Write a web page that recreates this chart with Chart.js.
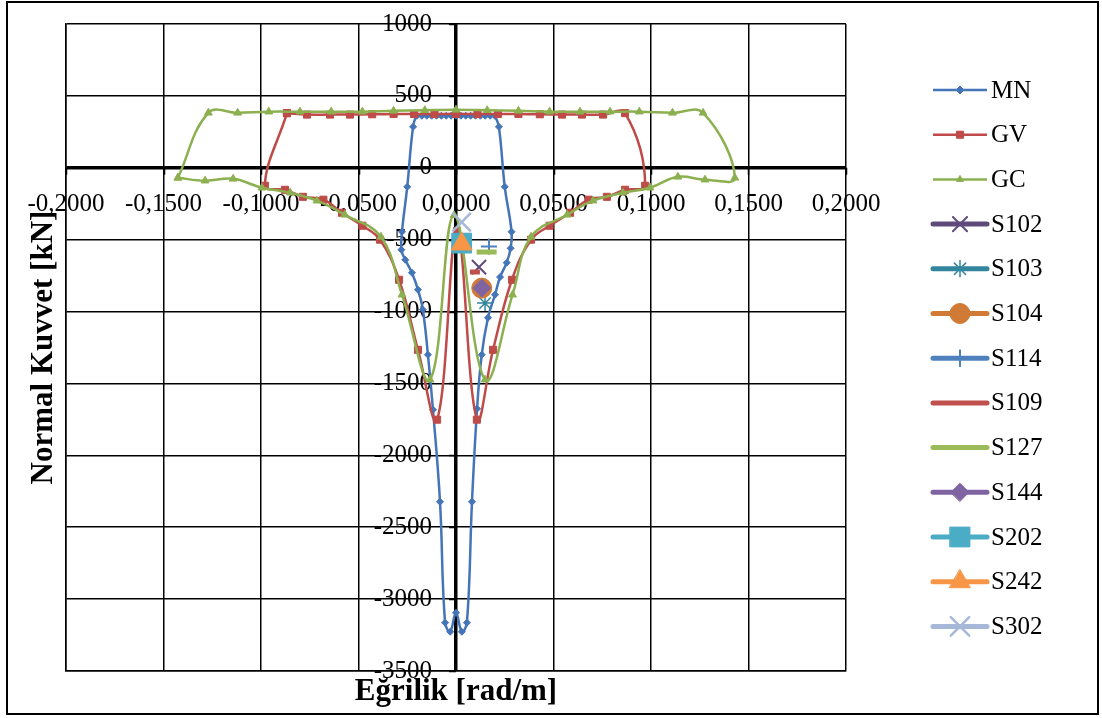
<!DOCTYPE html>
<html>
<head>
<meta charset="utf-8">
<script src="https://cdn.jsdelivr.net/npm/chart.js@4.4.1/dist/chart.umd.min.js"></script>
<style>
  body { margin: 0; background: #fff; }
  #wrap { width: 1102px; height: 718px; }
</style>
</head>
<body>
<div id="wrap"><canvas id="chart" width="1102" height="718"></canvas></div>
<script>
// tick values
var xTicks = [-0.2, -0.15, -0.1, -0.05, 0, 0.05, 0.1, 0.15, 0.2];
var yTicks = [1000, 500, 0, -500, -1000, -1500, -2000, -2500, -3000, -3500];

// MN curve (closed loop)
var mnCurv = [0.020, 0.0175, 0.015, 0.0125, 0.010, 0.0075, 0.005, 0.0025, 0, -0.0025, -0.005, -0.0075, -0.010, -0.0125, -0.015, -0.0175, -0.020,
    -0.022, -0.025, -0.0277, -0.028, -0.026, -0.0226, -0.0195, -0.017, -0.0144, -0.0118, -0.0082, -0.0056, -0.003, 0,
    0.003, 0.0056, 0.0082, 0.0108, 0.0132, 0.0164, 0.020, 0.0226, 0.026, 0.028, 0.0285, 0.025, 0.022, 0.020];
var mnForce = [362, 362, 362, 362, 362, 362, 362, 362, 362, 362, 362, 362, 362, 362, 362, 362, 362,
    285, -132, -445, -570, -640, -730, -848, -987, -1300, -1683, -2323, -3164, -3227, -3095,
    -3227, -3164, -2323, -1676, -1300, -1043, -883, -760, -660, -560, -445, -132, 285, 362];

// GV curve
var gvCurv = [-0.0867, -0.0764, -0.0646, -0.0544, -0.043, -0.032, -0.0215, -0.011, 0, 0.011, 0.0215, 0.032, 0.043, 0.0544, 0.0646, 0.0754, 0.0867,
    0.097, 0.0867, 0.0774, 0.068, 0.0585, 0.048, 0.0385, 0.0287, 0.019, 0.0107, 0.0005,
    -0.0097, -0.0195, -0.0292, -0.039, -0.048, -0.0585, -0.068, -0.0785, -0.0877, -0.098, -0.0867];
var gvForce = [380, 370, 370, 370, 372, 374, 374, 374, 375, 374, 374, 374, 372, 370, 370, 370, 380,
    -125, -153, -202, -222, -313, -403, -500, -779, -1266, -1752, -440,
    -1752, -1266, -779, -500, -403, -313, -222, -202, -153, -125, 380];

// GC curve
var gcCurv = [-0.1426, -0.127, -0.112, -0.096, -0.080, -0.064, -0.048, -0.032, -0.016, 0, 0.016, 0.032, 0.048, 0.0636, 0.079, 0.094, 0.111, 0.1267,
    0.143, 0.1277, 0.1138, 0.0995, 0.0856, 0.0703, 0.057, 0.0385, 0.029, 0.0149, -0.001,
    -0.0133, -0.0277, -0.0385, -0.057, -0.0713, -0.085, -0.0995, -0.1143, -0.1287, -0.1426];
var gcForce = [-70, 382, 382, 390, 390, 390, 390, 396, 400, 403, 400, 396, 390, 390, 390, 390, 382, 382,
    -70, -83, -63, -139, -174, -229, -327, -480, -883, -1474, -330,
    -1474, -883, -480, -327, -229, -174, -139, -77, -90, -70];

// test points
var sNames = ['S102', 'S103', 'S104', 'S114', 'S109', 'S127', 'S144', 'S202', 'S242', 'S302'];
var sCurv = [0.0118, 0.0149, 0.0132, 0.0169, 0.0097, 0.0157, 0.0132, 0.0029, 0.0029, 0.0029];
var sForce = [-691, -941, -837, -547, -725, -586, -837, -524, -530, -378];

var sStyles = [
    { color: '#604A7B', pointStyle: 'crossRot', radius: 10, width: 2 },
    { color: '#31859C', pointStyle: 'star', radius: 8, width: 1.5 },
    { color: '#D07A36', pointStyle: 'circle', radius: 10, width: 1 },
    { color: '#4F81BD', pointStyle: 'cross', radius: 8, width: 2 },
    { color: '#C0504D', pointStyle: 'line', radius: 5, width: 5 },
    { color: '#9BBB59', pointStyle: 'line', radius: 10, width: 5 },
    { color: '#8064A2', pointStyle: 'rectRot', radius: 9, width: 1 },
    { color: '#4BACC6', pointStyle: 'rect', radius: 14, width: 1 },
    { color: '#F79646', pointStyle: 'triangle', radius: 12, width: 1 },
    { color: '#A5B8D7', pointStyle: 'crossRot', radius: 13, width: 2.5 }
];

function toPoints(xs, ys) {
    var pts = [];
    for (var i = 0; i < xs.length; i++) {
        pts.push({ x: xs[i], y: ys[i] });
    }
    return pts;
}

var datasets = [
    { label: 'MN', data: toPoints(mnCurv, mnForce), borderColor: '#4475B8', backgroundColor: '#4475B8',
      pointStyle: 'rectRot', pointRadius: 3.5, borderWidth: 2.5, legendLine: 2.5, legendRadius: 4 },
    { label: 'GV', data: toPoints(gvCurv, gvForce), borderColor: '#BE4B48', backgroundColor: '#BE4B48',
      pointStyle: 'rect', pointRadius: 5, borderWidth: 2.5, legendLine: 2.5, legendRadius: 5 },
    { label: 'GC', data: toPoints(gcCurv, gcForce), borderColor: '#8CB050', backgroundColor: '#8CB050',
      pointStyle: 'triangle', pointRadius: 4.5, borderWidth: 2.5, legendLine: 2.5, legendRadius: 4 }
];
for (var i = 0; i < sNames.length; i++) {
    var st = sStyles[i];
    datasets.push({
        label: sNames[i], data: [{ x: sCurv[i], y: sForce[i] }],
        borderColor: st.color, backgroundColor: st.color, pointStyle: st.pointStyle,
        pointRadius: st.radius, pointBorderWidth: st.width, borderWidth: st.width,
        showLine: false, legendLine: 5, legendRadius: st.radius
    });
}
datasets.forEach(function(d, idx) {
    d.order = 100 - idx;
    if (d.showLine === undefined) {
        d.showLine = true;
        d.tension = 0.4;
        d.pointBorderWidth = 1;
    }
});

var serif = '"Liberation Serif", "Times New Roman", serif';

function fmtX(v) {
    return v.toFixed(4).replace('.', ',');
}

var labelsPlugin = {
    id: 'axisLabels',
    beforeDatasetsDraw: function(chart) {
        var ctx = chart.ctx;
        var xs = chart.scales.x, ys = chart.scales.y;
        var x0 = xs.getPixelForValue(0), y0 = ys.getPixelForValue(0);
        ctx.save();
        ctx.strokeStyle = '#000';
        ctx.lineWidth = 1.5;
        ctx.beginPath();
        yTicks.forEach(function(v) {
            var py = Math.round(ys.getPixelForValue(v)) + 0.5;
            ctx.moveTo(x0 - 7, py); ctx.lineTo(x0, py);
        });
        xTicks.forEach(function(v) {
            var px = Math.round(xs.getPixelForValue(v)) + 0.5;
            ctx.moveTo(px, y0); ctx.lineTo(px, y0 + 7);
        });
        ctx.stroke();
        ctx.fillStyle = '#000';
        ctx.font = '25px ' + serif;
        ctx.textAlign = 'right';
        ctx.textBaseline = 'middle';
        yTicks.forEach(function(v) {
            ctx.fillText(String(v), x0 - 24, ys.getPixelForValue(v));
        });
        ctx.textAlign = 'center';
        xTicks.forEach(function(v) {
            ctx.fillText(fmtX(v), xs.getPixelForValue(v), y0 + 37);
        });
        ctx.restore();
    },
    afterDraw: function(chart) {
        var ctx = chart.ctx;
        var area = chart.chartArea;
        ctx.save();
        // axis titles
        ctx.fillStyle = '#000';
        ctx.font = 'bold 31px ' + serif;
        ctx.textAlign = 'center';
        ctx.textBaseline = 'middle';
        ctx.fillText('Eğrilik [rad/m]', (area.left + area.right) / 2, 692);
        ctx.save();
        ctx.translate(44, (area.top + area.bottom) / 2);
        ctx.rotate(-Math.PI / 2);
        ctx.fillText('Normal Kuvvet [kN]', 0, 0);
        ctx.restore();

        // legend
        ctx.font = '25px ' + serif;
        ctx.textAlign = 'left';
        chart.data.datasets.forEach(function(d, i) {
            var y = 90 + i * 44.7;
            ctx.strokeStyle = d.borderColor;
            ctx.lineWidth = d.legendLine;
            ctx.lineCap = d.legendLine > 3 ? 'round' : 'butt';
            ctx.beginPath();
            ctx.moveTo(933, y); ctx.lineTo(987, y);
            ctx.stroke();
            if (d.pointStyle !== 'line') {
                ctx.fillStyle = d.backgroundColor;
                ctx.lineWidth = d.pointBorderWidth || 1;
                Chart.helpers.drawPoint(ctx, { pointStyle: d.pointStyle, radius: d.legendRadius, rotation: 0, borderWidth: d.pointBorderWidth || 1 }, 960, y);
            }
            ctx.fillStyle = '#000';
            ctx.fillText(d.label, 991, y + 1);
        });

        // outer frame
        ctx.strokeStyle = '#000';
        ctx.lineWidth = 2;
        ctx.strokeRect(7, 2, 1091, 712);
        ctx.restore();
    }
};

function gridWidth(c) {
    return Math.abs(c.tick.value) < 1e-9 ? 3.5 : 1.5;
}

new Chart(document.getElementById('chart'), {
    type: 'scatter',
    data: { datasets: datasets },
    options: {
        responsive: false,
        animation: false,
        devicePixelRatio: 1,
        layout: { padding: { left: 66, top: 24, right: 256, bottom: 47 } },
        plugins: { legend: { display: false }, tooltip: { enabled: false } },
        scales: {
            x: {
                type: 'linear', min: -0.2, max: 0.2,
                ticks: { display: false, stepSize: 0.05 },
                grid: { color: '#000', lineWidth: gridWidth, drawTicks: false },
                border: { display: true, color: '#000', width: 1.5 }
            },
            y: {
                type: 'linear', min: -3500, max: 1000,
                ticks: { display: false, stepSize: 500 },
                grid: { color: '#000', lineWidth: gridWidth, drawTicks: false },
                border: { display: true, color: '#000', width: 1.5 }
            }
        }
    },
    plugins: [labelsPlugin]
});
</script>
</body>
</html>
